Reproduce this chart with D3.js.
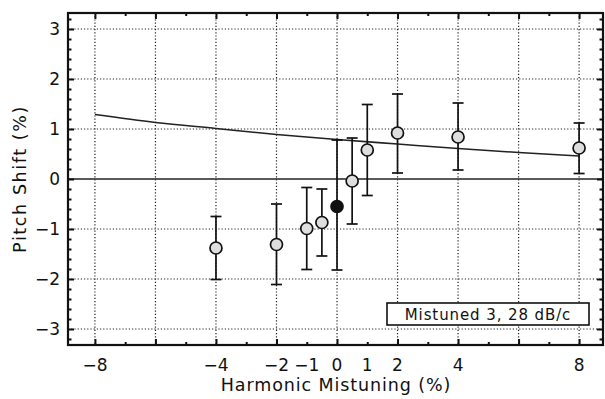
<!DOCTYPE html>
<html>
<head>
<meta charset="utf-8">
<script src="https://cdn.jsdelivr.net/npm/d3@7"></script>
<style>
  html, body { margin: 0; padding: 0; background: #fff; }
  svg { display: block; font-family: "DejaVu Sans", "Liberation Sans", sans-serif; }
</style>
</head>
<body>
<svg id="chart" width="605" height="399"></svg>
<script>
// Measured pitch shifts (%) against harmonic mistuning (%), with error bar limits
const mistuning = [-4, -2, -1, -0.5, 0, 0.5, 1, 2, 4, 8];
const pitchShift = [-1.38, -1.31, -0.99, -0.87, -0.55, -0.04, 0.58, 0.92, 0.84, 0.62];
const errUpper = [-0.75, -0.50, -0.17, -0.20, 0.78, 0.82, 1.49, 1.70, 1.52, 1.12];
const errLower = [-2.01, -2.11, -1.81, -1.54, -1.82, -0.90, -0.33, 0.12, 0.18, 0.11];
const solidMarker = [false, false, false, false, true, false, false, false, false, false];

// Model prediction curve
const modelX = [-8, -6, -4, -2, 0, 2, 4, 6, 8];
const modelY = [1.29, 1.13, 1.01, 0.89, 0.79, 0.70, 0.61, 0.53, 0.46];

// Axis tick values and labels
const xLabelTicks = [-8, -4, -2, -1, 0, 1, 2, 4, 8];
const xMajorTicks = [-8, -6, -4, -2, 0, 2, 4, 6, 8];
const xMinorTicks = [-7, -5, -3, -1, 1, 3, 5, 7];
const yMajorTicks = [-3, -2, -1, 0, 1, 2, 3];
const legendText = "Mistuned 3, 28 dB/c";
const xTitle = "Harmonic Mistuning (%)";
const yTitle = "Pitch Shift (%)";

const svg = d3.select("#chart");
const plotL = 68, plotR = 603, plotT = 13, plotB = 345;

const x = d3.scaleLinear().domain([-8.89, 8.79]).range([plotL, plotR]);
const y = d3.scaleLinear().domain([-3.32, 3.32]).range([plotB, plotT]);

const yMinorTicks = d3.range(-32, 33, 2).map(d => d / 10).filter(d => Math.abs(d - Math.round(d)) > 1e-6);

// dotted grid
const grid = svg.append("g").attr("stroke", "#222").attr("stroke-width", 1.2)
  .attr("stroke-dasharray", "1.2,2");
grid.selectAll("line.v").data(xMajorTicks).join("line")
  .attr("x1", d => x(d)).attr("x2", d => x(d))
  .attr("y1", plotT).attr("y2", plotB);
grid.selectAll("line.h").data(yMajorTicks.filter(d => d !== 0)).join("line")
  .attr("class", "h")
  .attr("x1", plotL).attr("x2", plotR)
  .attr("y1", d => y(d)).attr("y2", d => y(d));

// zero reference line
svg.append("line")
  .attr("x1", plotL).attr("x2", plotR)
  .attr("y1", y(0)).attr("y2", y(0))
  .attr("stroke", "#222").attr("stroke-width", 1.5);

// model curve
svg.append("path")
  .datum(modelX.map((d, i) => [d, modelY[i]]))
  .attr("fill", "none").attr("stroke", "#222").attr("stroke-width", 1.6)
  .attr("d", d3.line().x(d => x(d[0])).y(d => y(d[1])).curve(d3.curveMonotoneX));

// axes with inward ticks on all four sides
function tickAxis(axisGen, transform) {
  const g = svg.append("g").attr("transform", transform).call(axisGen);
  g.selectAll("text").remove();
  g.select(".domain").remove();
  g.selectAll("line").attr("stroke", "#111").attr("stroke-width", 2);
  return g;
}
tickAxis(d3.axisBottom(x).tickValues(xMajorTicks).tickSize(-6), `translate(0,${plotB})`);
tickAxis(d3.axisBottom(x).tickValues(xMinorTicks).tickSize(-3), `translate(0,${plotB})`);
tickAxis(d3.axisTop(x).tickValues(xMajorTicks).tickSize(-6), `translate(0,${plotT})`);
tickAxis(d3.axisTop(x).tickValues(xMinorTicks).tickSize(-3), `translate(0,${plotT})`);
tickAxis(d3.axisLeft(y).tickValues(yMajorTicks).tickSize(-6), `translate(${plotL},0)`);
tickAxis(d3.axisLeft(y).tickValues(yMinorTicks).tickSize(-3.5), `translate(${plotL},0)`);
tickAxis(d3.axisRight(y).tickValues(yMajorTicks).tickSize(-6), `translate(${plotR},0)`);
tickAxis(d3.axisRight(y).tickValues(yMinorTicks).tickSize(-3.5), `translate(${plotR},0)`);

// frame
svg.append("rect")
  .attr("x", plotL).attr("y", plotT)
  .attr("width", plotR - plotL).attr("height", plotB - plotT)
  .attr("fill", "none").attr("stroke", "#111").attr("stroke-width", 2.2);

// tick labels
const fmt = d => d < 0 ? "\u2212" + Math.abs(d) : String(d);
svg.append("g").selectAll("text").data(xLabelTicks).join("text")
  .attr("x", d => x(d)).attr("y", plotB + 26)
  .attr("text-anchor", "middle").attr("font-size", 17).attr("fill", "#111")
  .text(fmt);
svg.append("g").selectAll("text").data(yMajorTicks).join("text")
  .attr("x", plotL - 8).attr("y", d => y(d) + 6)
  .attr("text-anchor", "end").attr("font-size", 17).attr("fill", "#111")
  .text(fmt);

// axis titles
svg.append("text")
  .attr("x", 336).attr("y", 391)
  .attr("text-anchor", "middle").attr("font-size", 17.5).attr("fill", "#111")
  .attr("letter-spacing", 0.9)
  .text(xTitle);
svg.append("text")
  .attr("transform", `translate(26,${y(0)}) rotate(-90)`)
  .attr("text-anchor", "middle").attr("font-size", 17.5).attr("fill", "#111")
  .attr("letter-spacing", 1.6)
  .text(yTitle);

// error bars and markers
const pts = mistuning.map((d, i) => ({ x: d, y: pitchShift[i], hi: errUpper[i], lo: errLower[i], solid: solidMarker[i] }));
const cap = 5.5;
const eb = svg.append("g").attr("stroke", "#111").attr("stroke-width", 1.7);
eb.selectAll("line.stem").data(pts).join("line").attr("class", "stem")
  .attr("x1", d => x(d.x)).attr("x2", d => x(d.x))
  .attr("y1", d => y(d.hi)).attr("y2", d => y(d.lo));
eb.selectAll("line.capHi").data(pts).join("line").attr("class", "capHi")
  .attr("x1", d => x(d.x) - cap).attr("x2", d => x(d.x) + cap)
  .attr("y1", d => y(d.hi)).attr("y2", d => y(d.hi));
eb.selectAll("line.capLo").data(pts).join("line").attr("class", "capLo")
  .attr("x1", d => x(d.x) - cap).attr("x2", d => x(d.x) + cap)
  .attr("y1", d => y(d.lo)).attr("y2", d => y(d.lo));

svg.append("g").selectAll("circle").data(pts).join("circle")
  .attr("cx", d => x(d.x)).attr("cy", d => y(d.y)).attr("r", 6)
  .attr("fill", d => d.solid ? "#111" : "#dedede")
  .attr("stroke", "#111").attr("stroke-width", 1.7);

// legend box
const lg = svg.append("g");
lg.append("rect")
  .attr("x", 387).attr("y", 303).attr("width", 202).attr("height", 22)
  .attr("fill", "#fff").attr("stroke", "#111").attr("stroke-width", 1.6);
lg.append("text")
  .attr("x", 488).attr("y", 319.5)
  .attr("text-anchor", "middle").attr("font-size", 15).attr("fill", "#111")
  .attr("letter-spacing", 0.9)
  .text(legendText);
</script>
</body>
</html>
